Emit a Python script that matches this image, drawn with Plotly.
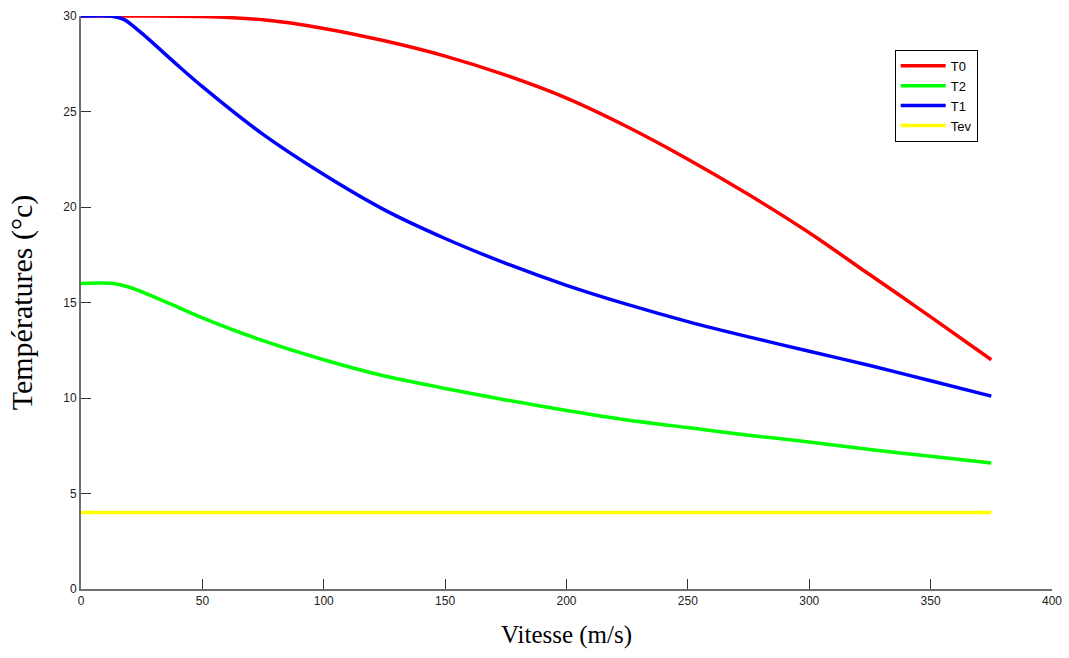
import plotly.graph_objects as go

# Temperatures versus air speed
x_t0 = [0, 25, 50, 75, 100, 125, 150, 175, 200, 225, 250, 275, 300, 325, 350, 375]
t0 = [30.0, 30.0, 29.97, 29.8, 29.35, 28.7, 27.9, 26.9, 25.7, 24.2, 22.5, 20.65, 18.65, 16.45, 14.25, 12.0]

x_t2 = [0, 13, 20, 30, 40, 50, 75, 100, 125, 150, 175, 200, 225, 250, 275, 300, 325, 350, 375]
t2 = [16.0, 16.0, 15.8, 15.3, 14.75, 14.2, 13.0, 12.0, 11.15, 10.5, 9.9, 9.35, 8.85, 8.45, 8.05, 7.7, 7.3, 6.95, 6.6]

x_t1 = [0, 12, 18, 25, 40, 50, 75, 100, 125, 150, 175, 200, 225, 250, 275, 300, 325, 350, 375]
t1 = [30.0, 30.0, 29.8, 29.1, 27.4, 26.3, 23.8, 21.7, 19.85, 18.35, 17.05, 15.9, 14.9, 14.0, 13.2, 12.45, 11.7, 10.9, 10.1]

x_tev = [0, 375]
tev = [4.0, 4.0]

x_ticks = [0, 50, 100, 150, 200, 250, 300, 350, 400]
y_ticks = [0, 5, 10, 15, 20, 25, 30]

series = [
    ("T0", x_t0, t0, "#ff0000"),
    ("T2", x_t2, t2, "#00ff00"),
    ("T1", x_t1, t1, "#0000ff"),
    ("Tev", x_tev, tev, "#ffff00"),
]

fig = go.Figure()
for name, xs, ys, color in series:
    fig.add_trace(go.Scatter(
        x=xs, y=ys, name=name, mode="lines",
        line=dict(color=color, width=3.5, shape="spline", smoothing=0.7),
    ))

tick_font = dict(family="Liberation Sans, Arial, sans-serif", size=12, color="#222222")

fig.update_layout(
    width=1069, height=658,
    margin=dict(l=81, r=17, t=16, b=69),
    paper_bgcolor="white", plot_bgcolor="white",
    showlegend=True,
    legend=dict(
        x=0.838, y=0.941, xanchor="left", yanchor="top",
        bgcolor="white", bordercolor="#000000", borderwidth=1,
        font=dict(family="Liberation Sans, Arial, sans-serif", size=13, color="#000000"),
        tracegroupgap=0, itemwidth=45,
    ),
    xaxis=dict(
        range=[0, 400], tickvals=x_ticks, ticktext=[str(v) for v in x_ticks],
        ticks="inside", ticklen=10, tickwidth=1, tickcolor="#333333",
        showline=True, linecolor="#707070", linewidth=2,
        showgrid=False, zeroline=False, tickfont=tick_font, automargin=False,
        title=dict(text="Vitesse (m/s)", standoff=18,
                   font=dict(family="Liberation Serif, Times New Roman, serif", size=25, color="#000000")),
    ),
    yaxis=dict(
        range=[0, 30], tickvals=y_ticks, ticktext=[str(v) for v in y_ticks],
        ticks="inside", ticklen=10, tickwidth=1, tickcolor="#333333",
        showline=True, linecolor="#707070", linewidth=2,
        showgrid=False, zeroline=False, tickfont=tick_font, automargin=False,
        title=dict(text="Températures (°c)", standoff=22,
                   font=dict(family="Liberation Serif, Times New Roman, serif", size=30, color="#000000")),
    ),
)

fig.write_html("out.html")
